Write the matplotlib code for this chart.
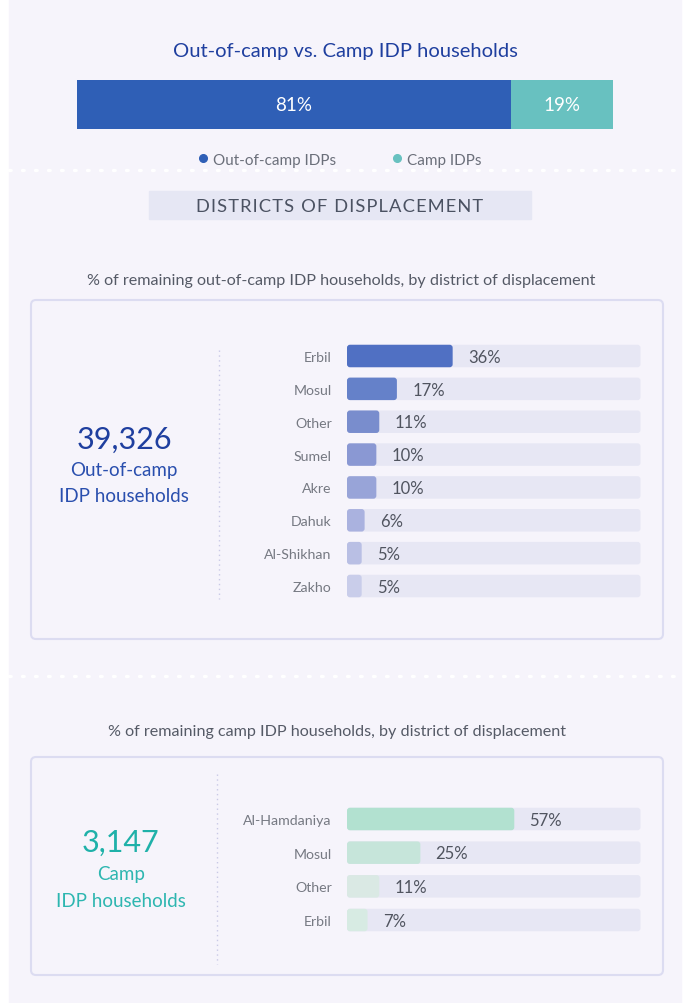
import matplotlib
matplotlib.use("Agg")
import matplotlib.pyplot as plt
from matplotlib.patches import FancyBboxPatch, Rectangle
from matplotlib.lines import Line2D

plt.rcParams['font.family'] = ['Lato', 'DejaVu Sans']

# data
split_labels = ["Out-of-camp IDPs", "Camp IDPs"]
split_values = [81, 19]

out_districts = ["Erbil", "Mosul", "Other", "Sumel", "Akre", "Dahuk", "Al-Shikhan", "Zakho"]
out_values = [36, 17, 11, 10, 10, 6, 5, 5]
out_total = "39,326"

camp_districts = ["Al-Hamdaniya", "Mosul", "Other", "Erbil"]
camp_values = [57, 25, 11, 7]
camp_total = "3,147"

# colours
BG = "#f6f4fb"
NAVY = "#1f3f9f"
TEAL = "#1fb1a9"
TRACK = "#e7e7f4"
BORDER = "#dcdcf1"
split_colors = ["#2f5fb6", "#68c1c0"]
out_colors = ["#5070c3", "#6581c9", "#798dcd", "#8a98d3", "#98a4d8", "#aab2df", "#b9bfe4", "#c9cdea"]
camp_colors = ["#b2e1d0", "#c6e5da", "#dae9e4", "#d7ebe3"]

W, H = 683, 1004
fig = plt.figure(figsize=(W / 100, H / 100), dpi=100)
fig.patch.set_facecolor("white")


def px_axes(x0, y0, x1, y1):
    return fig.add_axes([x0 / W, 1 - y1 / H, (x1 - x0) / W, (y1 - y0) / H])


# background canvas in pixel units
bg = px_axes(0, 0, W, H)
bg.set_xlim(0, W)
bg.set_ylim(H, 0)
bg.axis("off")
bg.add_patch(Rectangle((9, 0), 672, H, color=BG, zorder=0))

# dotted separators
for y in (171, 677):
    bg.plot([9, 681], [y, y], color="white", lw=2.4, ls=(0, (0.5, 3.4)),
            dash_capstyle="round", zorder=1)

bg.text(345, 51, "Out-of-camp vs. Camp IDP households", ha="center", va="center",
        fontsize=14.5, color=NAVY)

# section header, letter-spaced with hair spaces
header = "\u200a".join("DISTRICTS OF DISPLACEMENT")
bg.add_patch(Rectangle((149, 192), 382, 28, color="#e6e7f4", zorder=1))
bg.text(340, 207, header, ha="center", va="center", fontsize=13.2, color="#4b5262", zorder=2)

bg.text(341, 281, "% of remaining out-of-camp IDP households, by district of displacement",
        ha="center", va="center", fontsize=11.6, color="#555a66")
bg.text(337, 732, "% of remaining camp IDP households, by district of displacement",
        ha="center", va="center", fontsize=11.6, color="#555a66")

# panels
for (y0, y1) in ((301, 640), (758, 976)):
    bg.add_patch(FancyBboxPatch((31, y0), 632, y1 - y0,
                                boxstyle="round,pad=0,rounding_size=5",
                                fc=BG, ec=BORDER, lw=1.5, zorder=1))

bg.plot([219, 219], [351, 600], color="#c9c9e6", lw=1, ls=(0, (1, 2.5)), zorder=2)
bg.plot([217, 217], [775, 965], color="#c9c9e6", lw=1, ls=(0, (1, 2.5)), zorder=2)

# totals
bg.text(124, 440, out_total, ha="center", va="center", fontsize=22, color=NAVY, zorder=3)
bg.text(124, 471, "Out-of-camp", ha="center", va="center", fontsize=13.5, color="#2a4fae", zorder=3)
bg.text(124, 497, "IDP households", ha="center", va="center", fontsize=13.5, color="#2a4fae", zorder=3)

bg.text(121, 843, camp_total, ha="center", va="center", fontsize=22, color=TEAL, zorder=3)
bg.text(121, 875, "Camp", ha="center", va="center", fontsize=13.5, color="#2db6b0", zorder=3)
bg.text(121, 902, "IDP households", ha="center", va="center", fontsize=13.5, color="#2db6b0", zorder=3)

# stacked split bar
ax0 = px_axes(77, 81, 613, 130)
ax0.set_xlim(0, sum(split_values))
ax0.set_ylim(-0.5, 0.5)
ax0.axis("off")
left = 0
for lab, v, c in zip(split_labels, split_values, split_colors):
    ax0.barh(0, v, left=left, height=1.0, color=c, label=lab)
    ax0.text(left + v / 2, 0, f"{v}%", ha="center", va="center",
             fontsize=13.5, color="white")
    left += v
handles = [Line2D([], [], marker="o", ls="none", ms=5.5, color=c) for c in split_colors]
leg = ax0.legend(handles, split_labels, loc="upper center", bbox_to_anchor=(0.49, -0.2),
                 ncol=2, frameon=False, fontsize=11, handlelength=0.7, handletextpad=0.3,
                 columnspacing=3.6, labelcolor="#6b6f7a")


def rounded_bars(ax, container, px_per_x, px_per_y, radius_px):
    aspect = (1 / px_per_y) / (1 / px_per_x)
    for r in container.patches:
        fb = FancyBboxPatch((r.get_x(), r.get_y()), r.get_width(), r.get_height(),
                            boxstyle=f"round,pad=0,rounding_size={radius_px / px_per_x}",
                            mutation_aspect=aspect, fc=r.get_facecolor(), ec="none",
                            zorder=r.get_zorder())
        ax.add_patch(fb)
        r.remove()


def district_bars(names, values, colors, x0, x1, yc0, step):
    n = len(names)
    ax = px_axes(x0, yc0 - step / 2, x1, yc0 + step * (n - 0.5))
    ax.set_xlim(0, 100)
    ax.set_ylim(n - 0.5, -0.5)
    ax.patch.set_alpha(0)
    for s in ax.spines.values():
        s.set_visible(False)
    ppx = (x1 - x0) / 100
    h = 22.5 / step
    pos = list(range(n))
    tr = ax.barh(pos, [100] * n, height=h, color=TRACK, zorder=1)
    br = ax.barh(pos, values, height=h, color=colors, zorder=2)
    rounded_bars(ax, tr, ppx, step, 3)
    rounded_bars(ax, br, ppx, step, 3)
    for i, v in enumerate(values):
        ax.annotate(f"{v}%", (v, i), xytext=(11, -0.5), textcoords="offset points",
                    ha="left", va="center", fontsize=12, color="#50545f", zorder=3)
    ax.set_xticks([])
    ax.set_yticks(pos)
    ax.set_yticklabels(names, fontsize=10.2, color="#767982")
    ax.tick_params(axis="y", length=0, pad=11)
    return ax


district_bars(out_districts, out_values, out_colors, 347, 640.5, 357, 32.86)
district_bars(camp_districts, camp_values, camp_colors, 347, 640.5, 820, 33.67)

fig.savefig("out.png", dpi=100, facecolor=fig.get_facecolor())
